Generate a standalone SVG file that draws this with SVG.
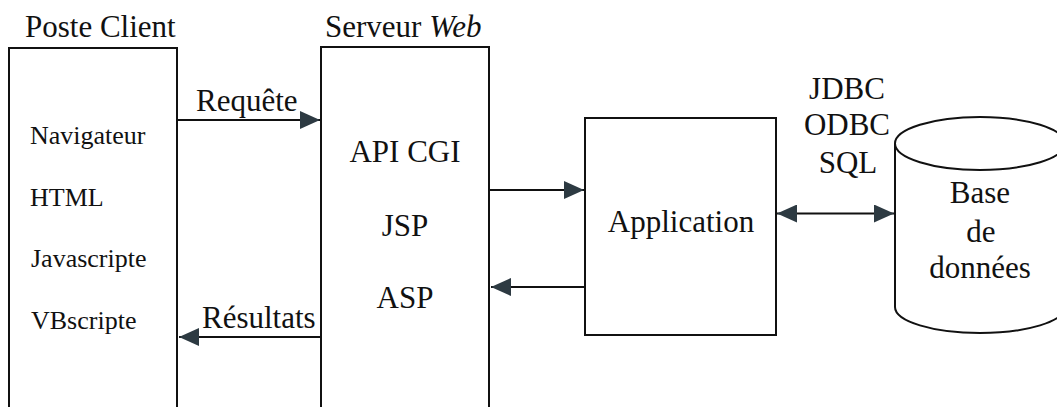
<svg xmlns="http://www.w3.org/2000/svg" width="1057" height="407" viewBox="0 0 1057 407">
  <style>
    .box { fill: #fff; stroke: #111; stroke-width: 2; }
    .wire { fill: none; stroke: #111; stroke-width: 2; }
    text { font-family: "Liberation Serif", "Times New Roman", serif; fill: #111; }
    .lbl { font-size: 31px; }
    .item { font-size: 26px; }
    .mid { text-anchor: middle; }
  </style>
  <defs>
    <marker id="head" viewBox="0 0 20 18" refX="20" refY="9" markerWidth="20" markerHeight="18" markerUnits="userSpaceOnUse" orient="auto-start-reverse">
      <path d="M0,0 L20,9 L0,18 Z" fill="#2d3a42"/>
    </marker>
  </defs>
  <rect width="1057" height="407" fill="#fff"/>

  <g id="client">
    <rect class="box" x="9" y="48" width="168" height="370"/>
    <text class="lbl" x="25" y="37">Poste Client</text>
    <text class="item" x="30" y="144">Navigateur</text>
    <text class="item" x="30" y="206">HTML</text>
    <text class="item" x="31" y="267">Javascripte</text>
    <text class="item" x="31" y="329">VBscripte</text>
  </g>

  <g id="server">
    <rect class="box" x="321" y="47" width="168" height="371"/>
    <text class="lbl" x="325" y="37">Serveur <tspan font-style="italic">Web</tspan></text>
    <text class="lbl mid" x="405" y="162">API CGI</text>
    <text class="lbl mid" x="405" y="236">JSP</text>
    <text class="lbl mid" x="405" y="308">ASP</text>
  </g>

  <g id="application">
    <rect class="box" x="585" y="118" width="191" height="217"/>
    <text class="lbl mid" x="681" y="232">Application</text>
  </g>

  <g id="database">
    <path class="box" d="M895,143.5 L895,307 A85,26 0 0 0 1065,307 L1065,143.5"/>
    <ellipse class="box" cx="980" cy="143.5" rx="85" ry="26.5"/>
    <text class="lbl mid" x="980" y="203">Base</text>
    <text class="lbl mid" x="981" y="242">de</text>
    <text class="lbl mid" x="980" y="278">données</text>
  </g>

  <g id="connectors">
    <line class="wire" x1="177" y1="120" x2="320" y2="120" marker-end="url(#head)"/>
    <text class="lbl" x="196" y="111">Requête</text>
    <line class="wire" x1="321" y1="337" x2="179" y2="337" marker-end="url(#head)"/>
    <text class="lbl" x="202" y="328">Résultats</text>
    <line class="wire" x1="489" y1="190" x2="584" y2="190" marker-end="url(#head)"/>
    <line class="wire" x1="585" y1="287" x2="491" y2="287" marker-end="url(#head)"/>
    <line class="wire" x1="777" y1="213.5" x2="894" y2="213.5" marker-start="url(#head)" marker-end="url(#head)"/>
    <text class="lbl mid" x="847" y="99">JDBC</text>
    <text class="lbl mid" x="847" y="135">ODBC</text>
    <text class="lbl mid" x="848" y="173">SQL</text>
  </g>
</svg>
